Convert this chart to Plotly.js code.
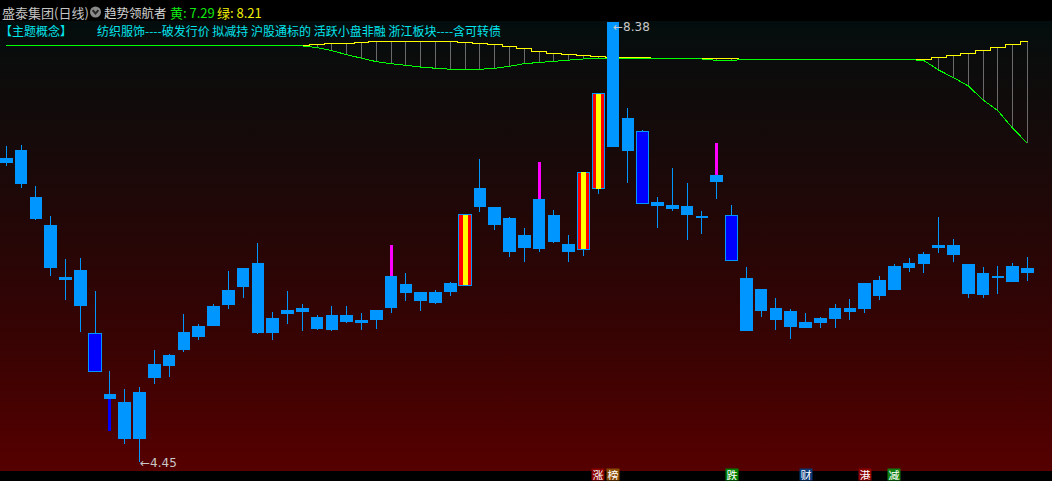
<!DOCTYPE html>
<html><head><meta charset="utf-8">
<script src="https://cdn.plot.ly/plotly-3.0.1.min.js"></script>
<style>
html,body{margin:0;padding:0;background:#000;overflow:hidden;}
#chart{width:1052px;height:481px;background:linear-gradient(to bottom,#000 0px,#000 21px,#030d0d 21px,#0b0c0c 60px,#160a0a 140px,#260606 240px,#380303 340px,#4a0101 420px,#560000 471px,#000 471px,#000 481px);}
#chart .scatterlayer path, #chart .barlayer path {shape-rendering:crispEdges;}
</style></head><body><div id="chart"></div>
<script>
// ---- daily OHLC (index = trading day) ----
const open  = [7.12,7.24,6.82,6.57,6.10,6.17,5.60,5.06,4.99,4.66, 5.20,5.31,5.45,5.57,5.67,5.85,6.01,6.23,5.60,5.77, 5.83,5.75,5.63,5.76,5.72,5.72,5.83,6.04,5.97,5.87, 5.97,6.03,6.73,6.73,6.63,6.36,6.35,6.66,6.40,6.35, 6.89,8.38,7.52,7.40,6.77,6.71,6.74,6.65,6.95,6.65, 6.09,6.00,5.83,5.80,5.65,5.69,5.73,5.79,5.82,5.93, 5.99,6.18,6.22,6.36,6.39,6.22,5.94,6.11,6.06,6.18];
const high  = [7.27,7.28,6.92,6.65,6.26,6.27,5.98,5.26,5.10,5.12, 5.45,5.42,5.77,5.68,5.86,6.16,6.18,6.41,5.79,5.98, 5.86,5.76,5.84,5.84,5.78,5.81,6.39,6.14,5.97,5.99, 6.06,6.66,7.16,6.73,6.64,6.54,7.13,6.70,6.48,7.04, 7.74,8.38,7.61,7.42,6.82,7.08,6.94,6.69,7.30,6.75, 6.19,6.00,5.92,5.82,5.78,5.75,5.86,5.91,6.05,6.11, 6.22,6.27,6.33,6.64,6.44,6.22,6.19,6.20,6.23,6.28];
const low   = [7.09,6.90,6.61,6.11,5.90,5.61,5.26,4.73,4.61,4.45, 5.15,5.21,5.43,5.54,5.67,5.82,5.92,5.59,5.54,5.68, 5.62,5.63,5.62,5.69,5.63,5.64,5.78,5.89,5.80,5.86, 5.93,6.02,6.68,6.52,6.28,6.24,6.33,6.41,6.24,6.29, 6.84,7.26,6.94,6.76,6.54,6.69,6.43,6.49,6.80,6.25, 5.62,5.75,5.63,5.55,5.65,5.65,5.65,5.72,5.78,5.90, 5.99,6.15,6.14,6.32,6.24,5.92,5.92,5.95,6.06,6.07];
const close = [7.17,6.93,6.62,6.18,6.08,5.84,5.26,5.01,4.66,5.08, 5.33,5.41,5.61,5.67,5.84,5.99,6.18,5.60,5.74,5.81, 5.79,5.64,5.76,5.70,5.69,5.81,6.11,5.96,5.89,5.97, 6.05,6.66,6.90,6.57,6.33,6.48,6.80,6.42,6.33,7.04, 7.74,7.26,7.23,6.76,6.74,6.75,6.66,6.63,7.01,6.25, 5.62,5.80,5.72,5.66,5.70,5.74,5.83,5.83,6.05,6.08, 6.20,6.23,6.31,6.39,6.30,5.95,6.14,6.09,6.20,6.14];

// ---- 趋势领航者 indicator ----
const yellowLine = [8.172,8.172,8.172,8.172,8.172,8.172,8.172,8.172,8.172,8.172, 8.172,8.172,8.172,8.172,8.172,8.172,8.172,8.172,8.172,8.172, 8.172,8.175,8.184,8.190,8.199,8.208,8.208,8.208,8.208,8.208, 8.204,8.199,8.190,8.181,8.159,8.139,8.121,8.101,8.092,8.083, 8.074,8.065,8.065,8.061,8.058,8.050,8.050,8.050,8.050,8.050, 8.045,8.045,8.045,8.045,8.045,8.045,8.045,8.045,8.045,8.045, 8.045,8.045,8.041,8.065,8.083,8.101,8.127,8.154,8.181,8.208];
const greenLine  = [8.168,8.168,8.168,8.168,8.168,8.168,8.168,8.168,8.168,8.168, 8.168,8.168,8.168,8.168,8.168,8.168,8.168,8.168,8.168,8.168, 8.166,8.152,8.124,8.088,8.059,8.026,8.008,7.990,7.978,7.967, 7.958,7.958,7.958,7.967,7.984,8.008,8.020,8.030,8.041,8.050, 8.050,8.050,8.052,8.052,8.050,8.050,8.050,8.050,8.038,8.038, 8.045,8.045,8.045,8.045,8.045,8.045,8.045,8.045,8.045,8.045, 8.045,8.045,8.036,7.951,7.883,7.809,7.684,7.588,7.431,7.297];

// ---- candle categories ----
const darkIdx = [6, 43, 49];          // dark-blue bodies
const limitIdx = [31, 39, 40];        // limit-up bodies
const upperMarkIdx = [26, 36, 48];    // magenta upper shadows
const lowerMarkIdx = [7];             // dark-blue lower shadow

// ---- event labels ----
const eventIdx  = [40, 41, 49, 54, 58, 60];
const eventText = ['涨','榜','跌','财','港','减'];

// ---- header texts ----
const stockName = '盛泰集团(日线)';
const indName = '趋势领航者';
const themeTag = '【主题概念】';
const themeText = '纺织服饰----破发行价 拟减持 沪股通标的 活跃小盘非融 浙江板块----含可转债';

// ================= drawing =================
const W = 1052, H = 481;
const px = v => v / W, py = v => 1 - v / H;
const LB = '#0096ff', DB = '#0000ff';
const eventColors = {'涨':'#8c0000','榜':'#8a4a00','跌':'#008000','财':'#0a3a78','港':'#8c0000','减':'#108010'};

const idx = open.map((_, i) => i);

const sx = [], sy = [];
idx.forEach(i => { sx.push(i, i, null); sy.push(yellowLine[i], greenLine[i], null); });
const wx = [], wy = [];
idx.forEach(i => { wx.push(i, i, null); wy.push(low[i], high[i], null); });
const bodyBase = idx.map(i => Math.min(open[i], close[i]));
const bodyLen  = idx.map(i => Math.abs(close[i] - open[i]));
const bodyColor = idx.map(i => darkIdx.includes(i) ? DB : (limitIdx.includes(i) ? '#ff0000' : LB));
const bodyLineW = idx.map(i => (darkIdx.includes(i) || limitIdx.includes(i)) ? 1 : 0);
const mx = [], my = [];
upperMarkIdx.forEach(i => { mx.push(i, i, null); my.push(Math.max(open[i], close[i]), high[i], null); });
const lx = [], ly = [];
lowerMarkIdx.forEach(i => { lx.push(i, i, null); ly.push(low[i], Math.min(open[i], close[i]), null); });

const traces = [
  {type:'scatter', mode:'lines', x:sx, y:sy, line:{color:'#6a6a6a', width:1}, hoverinfo:'skip', xaxis:'x', yaxis:'y'},
  {type:'scatter', mode:'lines', x:idx, y:yellowLine, line:{color:'#ffff00', width:1, shape:'hvh'}, xaxis:'x', yaxis:'y'},
  {type:'scatter', mode:'lines', x:idx, y:greenLine, line:{color:'#00ff00', width:1}, xaxis:'x', yaxis:'y'},
  {type:'scatter', mode:'lines', x:wx, y:wy, line:{color:LB, width:1}, hoverinfo:'skip', xaxis:'x2', yaxis:'y2'},
  {type:'bar', x:idx, y:bodyLen, base:bodyBase, width:0.85,
   marker:{color:bodyColor, line:{color:LB, width:bodyLineW}}, xaxis:'x3', yaxis:'y3'},
  {type:'bar', x:limitIdx, y:limitIdx.map(i => bodyLen[i]), base:limitIdx.map(i => bodyBase[i]), width:0.34,
   marker:{color:'#ffff00', line:{width:0}}, xaxis:'x3', yaxis:'y3'},
  {type:'scatter', mode:'lines', x:mx, y:my, line:{color:'#ff00ff', width:3}, xaxis:'x3', yaxis:'y3'},
  {type:'scatter', mode:'lines', x:lx, y:ly, line:{color:DB, width:3}, xaxis:'x3', yaxis:'y3'}
];

const xr = [-6.3/14.8, (W - 6.3)/14.8];
const yr = [8.38 - (H - 22)/112, 8.38 + 22/112];
const ax = extra => Object.assign({range:xr, visible:false, showgrid:false, zeroline:false, fixedrange:true}, extra);
const ay = extra => Object.assign({range:yr, visible:false, showgrid:false, zeroline:false, fixedrange:true}, extra);

const hiIdx = high.indexOf(Math.max(...high));
const loIdx = low.indexOf(Math.min(...low));
const cjk = '"Noto Sans CJK SC", "Noto Sans", sans-serif';

const ann = [
  {xref:'paper', yref:'paper', x:px(0), y:py(12), xanchor:'left', yanchor:'middle', showarrow:false, text:stockName, font:{family:cjk, size:13, color:'#c4c4c4'}},
  {xref:'paper', yref:'paper', x:px(102), y:py(12), xanchor:'left', yanchor:'middle', showarrow:false, text:indName, font:{family:cjk, size:12.5, color:'#d4d4d4'}},
  {xref:'paper', yref:'paper', x:px(168), y:py(12), xanchor:'left', yanchor:'middle', showarrow:false, text:'黄: 7.29', font:{family:cjk, size:13, color:'#10e810'}},
  {xref:'paper', yref:'paper', x:px(215), y:py(12), xanchor:'left', yanchor:'middle', showarrow:false, text:'绿: 8.21', font:{family:cjk, size:13, color:'#f0f000'}},
  {xref:'paper', yref:'paper', x:px(-2), y:py(30), xanchor:'left', yanchor:'middle', showarrow:false, text:themeTag, font:{family:cjk, size:12, color:'#00e4ec'}},
  {xref:'paper', yref:'paper', x:px(95), y:py(30), xanchor:'left', yanchor:'middle', showarrow:false, text:themeText, font:{family:cjk, size:12, color:'#00e4ec'}},
  {xref:'x', yref:'y', x:hiIdx, y:high[hiIdx], xanchor:'left', yanchor:'middle', yshift:-5, xshift:-2, showarrow:false,
   text:'←' + high[hiIdx].toFixed(2), font:{family:'DejaVu Sans', size:12, color:'#c8c8c8'}},
  {xref:'x', yref:'y', x:loIdx, y:low[loIdx], xanchor:'left', yanchor:'middle', yshift:-1, xshift:-2, showarrow:false,
   text:'←' + low[loIdx].toFixed(2), font:{family:'DejaVu Sans', size:12, color:'#c8c8c8'}}
];
eventIdx.forEach((k, i) => {
  ann.push({xref:'x', yref:'paper', x:k, y:0, xanchor:'center', yanchor:'bottom', showarrow:false,
    text:eventText[i], bgcolor:eventColors[eventText[i]], borderpad:0, width:12, height:11,
    font:{family:cjk, size:11, color:'#ffffff'}});
});

const shapes = [
  {type:'circle', xref:'paper', yref:'paper', x0:px(90), x1:px(101), y0:py(17.5), y1:py(6.5), fillcolor:'#8a8a8a', line:{width:0}},
  {type:'path', xref:'paper', yref:'paper',
   path:'M' + px(92.6) + ',' + py(10.2) + ' L' + px(95.5) + ',' + py(13.4) + ' L' + px(98.4) + ',' + py(10.2),
   line:{color:'#262626', width:2}}
];

const layout = {
  width:W, height:H, margin:{l:0, r:0, t:0, b:0, pad:0},
  paper_bgcolor:'rgba(0,0,0,0)', plot_bgcolor:'rgba(0,0,0,0)',
  showlegend:false, barmode:'overlay', bargap:0, hovermode:false,
  xaxis:ax({}), yaxis:ay({}),
  xaxis2:ax({overlaying:'x'}), yaxis2:ay({overlaying:'y'}),
  xaxis3:ax({overlaying:'x'}), yaxis3:ay({overlaying:'y'}),
  annotations:ann, shapes:shapes
};
Plotly.newPlot('chart', traces, layout, {staticPlot:true, displayModeBar:false});
</script></body></html>
